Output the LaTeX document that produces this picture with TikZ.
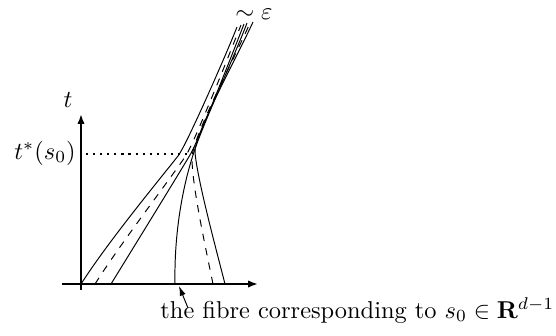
\documentclass[tikz,border=0pt]{standalone}
\usetikzlibrary{arrows.meta}
\begin{document}
\begin{tikzpicture}[x=0.41pt,y=-0.41pt,
  axis/.style={line width=1.1pt,-{Latex[length=4pt,width=3pt]}},
  ray/.style={line width=0.4pt},
  dray/.style={line width=0.4pt,dash pattern=on 3pt off 3pt},
  lbl/.style={inner sep=0pt}]
\useasboundingbox (0,0) rectangle (556,335);
% axes
\coordinate (xs) at (62,284);
\coordinate (xe) at (258,284);
\coordinate (ys) at (81,290);
\coordinate (ye) at (81,114);
\draw[axis] (xs) -- (xe);
\draw[axis] (ys) -- (ye);
% labels
\node[lbl] (t) at (68,100) {$t$};
\node[lbl] (ts) at (45,153) {$t^*(s_0)$};
\node[lbl] (eps) at (254,14.5) {$\sim\varepsilon$};
\node[lbl,anchor=base west] (fib) at (160,318) {the fibre corresponding to $s_0\in\mathbf{R}^{d-1}$};
% dotted level
\coordinate (d1) at (86,154);
\coordinate (d2) at (188,154);
\draw[line width=0.9pt,dotted] (d1) -- (d2);
% rays from the left
\draw[ray] (81,284) .. controls (108,242) and (155,185) .. (178,156) .. controls (186,146) and (226,55) .. (237,27);
\draw[dray] (95,284) .. controls (121,243) and (165,186) .. (185,157) .. controls (193,146) and (229,55) .. (241,25);
\draw[ray] (111,284) .. controls (135,245) and (172,185) .. (190,155) .. controls (197,144) and (232,55) .. (244,24);
% rays from the right
\draw[ray] (175,284) .. controls (174,232) and (183,185) .. (194,152) .. controls (203,124) and (235,55) .. (247,23);
\draw[dray] (213,284) .. controls (205,245) and (192,185) .. (192,158) .. controls (192,138) and (236,55) .. (250,23);
\draw[ray] (225,284) .. controls (215,245) and (197,178) .. (195,152) .. controls (194,135) and (238,55) .. (253,22);
% fibre arrow
\coordinate (fa) at (188,308);
\coordinate (fb) at (179,286);
\draw[ray,-{Latex[length=4pt,width=2.5pt]}] (fa) -- (fb);
\end{tikzpicture}
\end{document}
